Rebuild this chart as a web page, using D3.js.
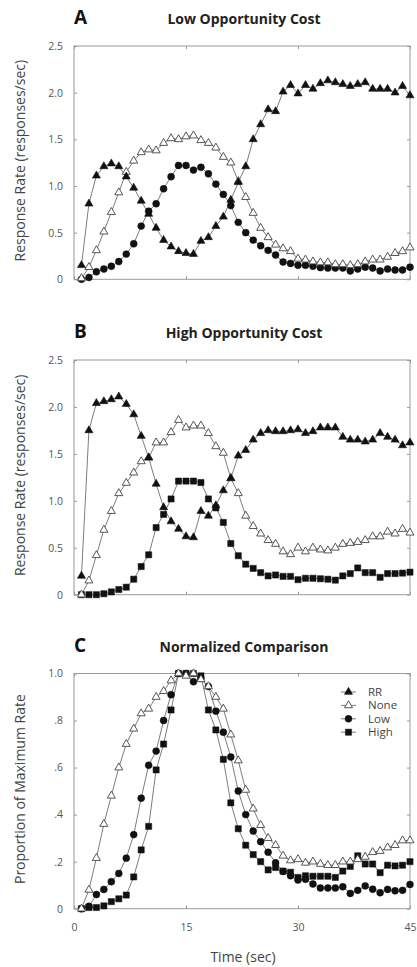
<!DOCTYPE html>
<html>
<head>
<meta charset="utf-8">
<script src="https://cdn.jsdelivr.net/npm/d3@7"></script>
<style>
  html, body { margin: 0; padding: 0; background: #fff; }
  svg { display: block; font-family: "Open Sans", "DejaVu Sans", sans-serif; }
</style>
</head>
<body>
<svg id="chart" width="417" height="967"></svg>
<script>
// Time bins (sec)
const seconds = [1,2,3,4,5,6,7,8,9,10,11,12,13,14,15,16,17,18,19,20,21,22,23,24,25,26,27,28,29,30,31,32,33,34,35,36,37,38,39,40,41,42,43,44,45];

// A: low opportunity cost (responses/sec)
const lowRR   = [0.15,0.81,1.11,1.21,1.24,1.21,1.10,0.98,0.84,0.70,0.55,0.42,0.35,0.30,0.28,0.27,0.41,0.45,0.57,0.67,0.85,1.04,1.21,1.50,1.66,1.82,1.80,2.01,2.08,1.99,2.08,2.04,2.10,2.13,2.11,2.09,2.07,2.09,2.11,2.04,2.04,2.04,2.00,2.07,1.97];
const lowNone = [0.01,0.13,0.31,0.51,0.72,0.93,1.15,1.27,1.36,1.39,1.38,1.46,1.51,1.50,1.53,1.54,1.49,1.46,1.41,1.31,1.25,1.05,0.88,0.71,0.55,0.45,0.37,0.33,0.30,0.22,0.21,0.19,0.18,0.18,0.16,0.16,0.15,0.16,0.19,0.21,0.21,0.24,0.28,0.30,0.34];
const lowLow  = [0.00,0.02,0.08,0.11,0.14,0.19,0.27,0.38,0.57,0.73,0.81,0.97,1.10,1.22,1.22,1.17,1.20,1.13,1.02,0.91,0.79,0.61,0.50,0.42,0.36,0.31,0.26,0.185,0.17,0.15,0.15,0.14,0.125,0.12,0.12,0.12,0.09,0.11,0.13,0.12,0.09,0.11,0.10,0.10,0.13];

// B: high opportunity cost (responses/sec)
const highRR   = [0.20,1.75,2.04,2.06,2.08,2.11,2.03,1.92,1.69,1.46,1.18,0.93,0.78,0.70,0.62,0.61,0.89,0.84,0.95,1.11,1.24,1.48,1.54,1.65,1.72,1.75,1.74,1.74,1.75,1.76,1.72,1.74,1.78,1.78,1.78,1.68,1.65,1.65,1.63,1.65,1.72,1.68,1.65,1.59,1.62];
const highNone = [0.00,0.15,0.42,0.69,0.89,1.08,1.19,1.30,1.42,1.46,1.62,1.62,1.73,1.86,1.78,1.80,1.80,1.72,1.58,1.51,1.24,1.08,0.84,0.73,0.65,0.58,0.54,0.46,0.43,0.50,0.46,0.50,0.48,0.47,0.50,0.54,0.55,0.56,0.58,0.62,0.62,0.67,0.65,0.70,0.66];
const highHigh = [0.00,0.00,0.00,0.01,0.03,0.055,0.08,0.165,0.30,0.425,0.715,0.855,1.02,1.21,1.21,1.21,1.195,1.02,0.925,0.77,0.545,0.415,0.325,0.28,0.235,0.20,0.21,0.195,0.195,0.16,0.175,0.175,0.17,0.165,0.155,0.20,0.225,0.285,0.235,0.235,0.185,0.225,0.225,0.23,0.24];

// C: proportion of maximum rate
const normNone = [0.00,0.08,0.215,0.36,0.48,0.60,0.70,0.765,0.83,0.85,0.90,0.925,0.97,1.00,0.99,1.00,0.975,0.945,0.90,0.85,0.74,0.63,0.505,0.425,0.355,0.30,0.27,0.225,0.205,0.21,0.195,0.20,0.19,0.185,0.185,0.20,0.20,0.21,0.22,0.24,0.245,0.26,0.27,0.29,0.29];
const normLow  = [0.00,0.01,0.06,0.082,0.115,0.15,0.215,0.315,0.47,0.61,0.67,0.80,0.91,1.00,1.00,0.965,0.98,0.945,0.84,0.75,0.645,0.50,0.40,0.33,0.285,0.24,0.195,0.158,0.14,0.122,0.125,0.105,0.088,0.088,0.088,0.093,0.065,0.078,0.097,0.083,0.068,0.082,0.076,0.078,0.103];
const normHigh = [0.00,0.005,0.005,0.012,0.03,0.042,0.058,0.135,0.25,0.35,0.59,0.70,0.845,1.00,1.00,1.00,0.99,0.845,0.76,0.635,0.45,0.34,0.27,0.23,0.20,0.165,0.175,0.16,0.155,0.133,0.14,0.138,0.138,0.138,0.133,0.16,0.18,0.225,0.19,0.19,0.153,0.185,0.182,0.185,0.20];

// Axis ticks
const timeTicks = [0, 15, 30, 45];
const timeTickLabels = ["0", "15", "30", "45"];
const rateTicks = [0, 0.5, 1.0, 1.5, 2.0, 2.5];
const rateTickLabels = ["0", "0.5", "1.0", "1.5", "2.0", "2.5"];
const propTicks = [0, 0.2, 0.4, 0.6, 0.8, 1.0];
const propTickLabels = ["0", ".2", ".4", ".6", ".8", "1.0"];

// Legend
const legendNames = ["RR", "None", "Low", "High"];

// Marker styles for each condition
const markerStyle = {
  RR:   { type: d3.symbolTriangle, size: 28, fill: "#111", stroke: "#111", sw: 0.6 },
  None: { type: d3.symbolTriangle, size: 28, fill: "#fff", stroke: "#444", sw: 0.9 },
  Low:  { type: d3.symbolCircle,   size: 38, fill: "#111", stroke: "#111", sw: 0.5 },
  High: { type: d3.symbolSquare,   size: 38, fill: "#111", stroke: "#111", sw: 0.5 }
};

const svg = d3.select("#chart");
const plotLeft = 74, plotRight = 410;
const x = d3.scaleLinear().domain([0, 45]).range([plotLeft, plotRight]);

const frameColor = "#9a9a9a";
const lineColor = "#7d7d7d";
const tickTextColor = "#555";

function drawPanel(cfg) {
  const y = d3.scaleLinear().domain(cfg.yDomain).range([cfg.bottom, cfg.top]);
  const g = svg.append("g");

  // Panel letter and title
  g.append("text").attr("x", plotLeft).attr("y", cfg.top - 22)
    .attr("font-size", 19).attr("font-weight", 700).attr("fill", "#111")
    .text(cfg.letter);
  g.append("text").attr("x", 244).attr("y", cfg.top - 22)
    .attr("text-anchor", "middle").attr("font-size", 14).attr("font-weight", 700).attr("fill", "#222")
    .text(cfg.title);

  // Inward ticks on all four sides
  const tickFmtY = (d, i) => cfg.yLabels[i];
  const leftAxis = d3.axisLeft(y).tickValues(cfg.yTicks).tickFormat(tickFmtY)
    .tickSizeInner(-3).tickSizeOuter(0).tickPadding(11);
  const rightAxis = d3.axisRight(y).tickValues(cfg.yTicks).tickFormat("")
    .tickSizeInner(-3).tickSizeOuter(0);
  const topAxis = d3.axisTop(x).tickValues(timeTicks).tickFormat("")
    .tickSizeInner(-3).tickSizeOuter(0);
  const bottomAxis = d3.axisBottom(x).tickValues(timeTicks)
    .tickFormat(cfg.showTime ? (d, i) => timeTickLabels[i] : "")
    .tickSizeInner(-3).tickSizeOuter(0).tickPadding(15);

  const axes = [
    g.append("g").attr("transform", `translate(${plotLeft},0)`).call(leftAxis),
    g.append("g").attr("transform", `translate(${plotRight},0)`).call(rightAxis),
    g.append("g").attr("transform", `translate(0,${cfg.top})`).call(topAxis),
    g.append("g").attr("transform", `translate(0,${cfg.bottom})`).call(bottomAxis)
  ];
  axes.forEach(a => {
    a.select(".domain").remove();
    a.selectAll(".tick line").attr("stroke", frameColor);
    a.selectAll(".tick text").attr("fill", tickTextColor)
      .attr("font-size", 10.5).attr("font-family", "\"Open Sans\", sans-serif");
  });

  // Frame
  g.append("rect").attr("x", plotLeft).attr("y", cfg.top)
    .attr("width", plotRight - plotLeft).attr("height", cfg.bottom - cfg.top)
    .attr("fill", "none").attr("stroke", frameColor).attr("stroke-width", 1);

  // Y axis title
  g.append("text")
    .attr("transform", `translate(25,${(cfg.top + cfg.bottom) / 2 - 2}) rotate(-90)`)
    .attr("text-anchor", "middle").attr("font-size", 14).attr("fill", "#444")
    .text(cfg.yTitle);

  // Series lines
  const line = d3.line().x((d, i) => x(seconds[i])).y(d => y(d));
  cfg.series.forEach(s => {
    g.append("path").datum(s.values).attr("d", line)
      .attr("fill", "none").attr("stroke", lineColor).attr("stroke-width", 1);
  });

  // Series markers (drawn after all lines)
  cfg.markerOrder.forEach(name => {
    const s = cfg.series.find(d => d.name === name);
    if (!s) return;
    const st = markerStyle[name];
    g.append("g").selectAll("path").data(s.values).join("path")
      .attr("transform", (d, i) => `translate(${x(seconds[i])},${y(d)})`)
      .attr("d", d3.symbol().type(st.type).size(st.size))
      .attr("fill", st.fill).attr("stroke", st.stroke).attr("stroke-width", st.sw);
  });

  return { g, y };
}

drawPanel({
  letter: "A", title: "Low Opportunity Cost",
  top: 46, bottom: 279.3, yDomain: [0, 2.5],
  yTicks: rateTicks, yLabels: rateTickLabels,
  yTitle: "Response Rate (responses/sec)",
  series: [
    { name: "RR", values: lowRR },
    { name: "None", values: lowNone },
    { name: "Low", values: lowLow }
  ],
  markerOrder: ["Low", "None", "RR"]
});

drawPanel({
  letter: "B", title: "High Opportunity Cost",
  top: 360, bottom: 594.7, yDomain: [0, 2.5],
  yTicks: rateTicks, yLabels: rateTickLabels,
  yTitle: "Response Rate (responses/sec)",
  series: [
    { name: "RR", values: highRR },
    { name: "None", values: highNone },
    { name: "High", values: highHigh }
  ],
  markerOrder: ["High", "None", "RR"]
});

const panelC = drawPanel({
  letter: "C", title: "Normalized Comparison",
  top: 673.5, bottom: 908.7, yDomain: [0, 1.0],
  yTicks: propTicks, yLabels: propTickLabels,
  yTitle: "Proportion of Maximum Rate",
  showTime: true,
  series: [
    { name: "None", values: normNone },
    { name: "Low", values: normLow },
    { name: "High", values: normHigh }
  ],
  markerOrder: ["High", "Low", "None"]
});

// X axis title
svg.append("text").attr("x", 243).attr("y", 962)
  .attr("text-anchor", "middle").attr("font-size", 14).attr("fill", "#444")
  .text("Time (sec)");

// Legend for panel C
const legend = panelC.g.append("g").attr("transform", "translate(341,692)");
legendNames.forEach((name, i) => {
  const row = legend.append("g").attr("transform", `translate(0,${i * 13.4})`);
  row.append("line").attr("x1", 0).attr("x2", 15).attr("y1", 0).attr("y2", 0)
    .attr("stroke", lineColor).attr("stroke-width", 1);
  const st = markerStyle[name];
  row.append("path").attr("transform", "translate(7.5,0)")
    .attr("d", d3.symbol().type(st.type).size(st.size))
    .attr("fill", st.fill).attr("stroke", st.stroke).attr("stroke-width", st.sw);
  row.append("text").attr("x", 27).attr("y", 0).attr("dy", "0.35em")
    .attr("font-size", 11.5).attr("fill", "#444").text(name);
});
</script>
</body>
</html>
